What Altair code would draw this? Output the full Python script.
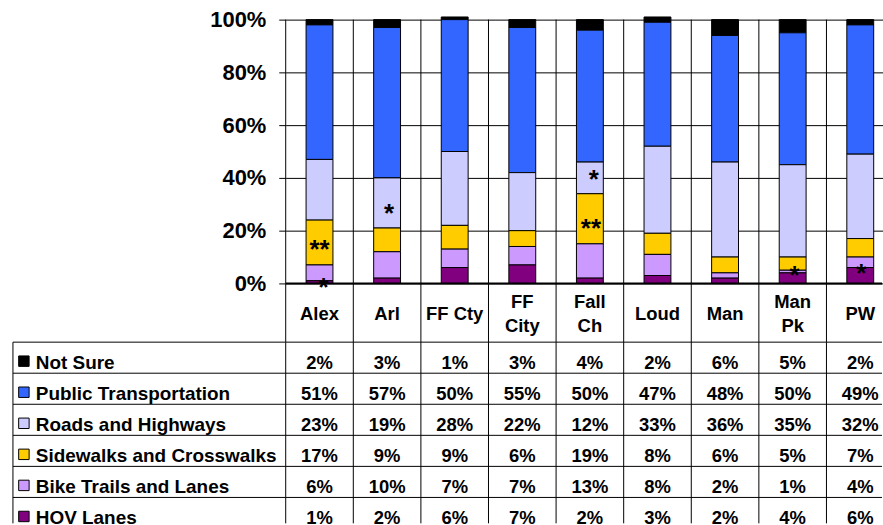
import altair as alt
import pandas as pd

# ---- data -------------------------------------------------------------
categories = ["Alex", "Arl", "FF Cty", "FF City", "Fall Ch", "Loud", "Man", "Man Pk", "PW"]
header_labels = ["Alex", "Arl", "FF Cty", "FF\nCity", "Fall\nCh", "Loud", "Man", "Man\nPk", "PW"]

series = [
    "Not Sure",
    "Public Transportation",
    "Roads and Highways",
    "Sidewalks and Crosswalks",
    "Bike Trails and Lanes",
    "HOV Lanes",
]
colors = ["#000000", "#3366FF", "#CCCCFF", "#FFCC00", "#CC99FF", "#800080"]

not_sure = [2, 3, 1, 3, 4, 2, 6, 5, 2]
public_transportation = [51, 57, 50, 55, 50, 47, 48, 50, 49]
roads_highways = [23, 19, 28, 22, 12, 33, 36, 35, 32]
sidewalks_crosswalks = [17, 9, 9, 6, 19, 8, 6, 5, 7]
bike_trails = [6, 10, 7, 7, 13, 8, 2, 1, 4]
hov_lanes = [1, 2, 6, 7, 2, 3, 2, 4, 6]
series_values = [not_sure, public_transportation, roads_highways,
                 sidewalks_crosswalks, bike_trails, hov_lanes]

# significance markers drawn on the bars
note_category = ["Alex", "Alex", "Arl", "Fall Ch", "Fall Ch", "Man Pk", "PW"]
note_position = [14.6, 0.3, 28.1, 41.0, 22.5, 4.8, 5.5]
note_text = ["**", "*", "*", "*", "**", "*", "*"]
note_shift = [0, 4, 2, 4, 1, 2, 1]

# ---- tables -----------------------------------------------------------
records = []
for s_idx, (name, vals) in enumerate(zip(series, series_values)):
    for cat, v in zip(categories, vals):
        records.append({
            "category": cat,
            "series": name,
            "value": v,
            "label": f"{v}%",
            "stack_order": len(series) - 1 - s_idx,
        })
df = pd.DataFrame(records)
header_df = pd.DataFrame({
    "category": categories,
    "label": header_labels,
    "lines": [lbl.count("\n") + 1 for lbl in header_labels],
})
series_df = pd.DataFrame({"series": series})
notes_df = pd.DataFrame({"category": note_category, "pos": note_position,
                         "text": note_text, "shift": note_shift})
one_row = pd.DataFrame({"k": [0]})

# ---- geometry ---------------------------------------------------------
FONT = "Liberation Sans"
COL_W = 67.9
LEFT_W = 284
PLOT_W = 599
BAR_H = 265
HEAD_H = 59
ROW_H = 31.2
TABLE_H = 182
LINE_H = 24

x_scale = alt.Scale(domain=categories, range=[0, COL_W * len(categories)],
                    paddingInner=0, paddingOuter=0)
row_scale = alt.Scale(domain=series, range=[0, ROW_H * len(series)],
                      paddingInner=0, paddingOuter=0)


def x_cat(band_pos=None):
    if band_pos is None:
        return alt.X("category:N", scale=x_scale, axis=None)
    return alt.X("category:N", scale=x_scale, axis=None, bandPosition=band_pos)


def y_row(band_pos=None):
    if band_pos is None:
        return alt.Y("series:N", scale=row_scale, axis=None)
    return alt.Y("series:N", scale=row_scale, axis=None, bandPosition=band_pos)


def col_separators():
    # vertical lines at the left edge of every category column
    return alt.Chart(header_df).mark_rule(color="black", strokeWidth=1).encode(x=x_cat(0))


color_enc = alt.Color("series:N", scale=alt.Scale(domain=series, range=colors), legend=None)

# ---- stacked bars -----------------------------------------------------
bars = alt.Chart(df).mark_bar(size=27, stroke="black", strokeWidth=1).encode(
    x=x_cat(),
    y=alt.Y(
        "value:Q",
        stack="zero",
        scale=alt.Scale(domain=[0, 100], nice=False),
        axis=alt.Axis(
            title=None, values=[0, 20, 40, 60, 80, 100],
            labelExpr="datum.value + '%'",
            labelFont=FONT, labelFontSize=22, labelFontWeight="bold",
            labelColor="black", labelPadding=13,
            tickSize=7, tickColor="black", tickWidth=1,
            grid=True, gridColor="black", gridWidth=1, domain=False,
        ),
    ),
    color=color_enc,
    order=alt.Order("stack_order:Q", sort="ascending"),
)

zero_line = alt.Chart(one_row).mark_rule(color="black", strokeWidth=2).encode(
    y=alt.datum(0)
)

note_layers = []
for shift in sorted(set(note_shift)):
    note_layers.append(
        alt.Chart(notes_df)
        .transform_filter(alt.datum.shift == shift)
        .mark_text(font=FONT, fontSize=26, fontWeight="bold", color="black",
                   baseline="alphabetic", dy=13, dx=shift)
        .encode(x=x_cat(), y=alt.Y("pos:Q"), text="text:N")
    )

bar_panel = alt.layer(col_separators(), bars, zero_line, *note_layers).properties(
    width=PLOT_W, height=BAR_H
)

# ---- category header row ---------------------------------------------
header_text = []
for n_lines in sorted(set(header_df["lines"])):
    header_text.append(
        alt.Chart(header_df)
        .transform_filter(alt.datum.lines == n_lines)
        .mark_text(font=FONT, fontSize=18.5, fontWeight="bold", color="black",
                   lineBreak="\n", lineHeight=LINE_H, baseline="middle", dy=1)
        .encode(x=x_cat(), y=alt.value(HEAD_H / 2 - (n_lines - 1) * LINE_H / 2),
                text="label:N")
    )
header = alt.layer(col_separators(), *header_text).properties(width=PLOT_W, height=HEAD_H)

# ---- data table ---------------------------------------------------------
row_lines = alt.Chart(series_df).mark_rule(color="black", strokeWidth=1).encode(y=y_row(0))
cells = alt.Chart(df).mark_text(
    font=FONT, fontSize=18.5, fontWeight="bold", color="black",
    baseline="middle", dy=5.5,
).encode(x=x_cat(), y=y_row(), text="label:N")
table = alt.layer(col_separators(), row_lines, cells).properties(width=PLOT_W, height=TABLE_H)

# ---- legend / row labels ------------------------------------------------
row_rules = alt.Chart(series_df).mark_rule(color="black", strokeWidth=1).encode(
    y=y_row(0), x=alt.value(10), x2=alt.value(LEFT_W),
)
left_border = alt.Chart(one_row).mark_rule(color="black", strokeWidth=1).encode(
    x=alt.value(10), y=alt.value(0), y2=alt.value(TABLE_H)
)
swatches = alt.Chart(series_df).mark_square(
    size=110, filled=True, opacity=1, stroke="black", strokeWidth=1, yOffset=3.5
).encode(x=alt.value(21), y=y_row(), color=color_enc)
row_text = alt.Chart(series_df).mark_text(
    font=FONT, fontSize=19, fontWeight="bold", color="black",
    align="left", baseline="middle", dy=5.5,
).encode(x=alt.value(33), y=y_row(), text="series:N")

row_labels = alt.layer(row_rules, left_border, swatches, row_text).properties(
    width=LEFT_W, height=TABLE_H
)


def blank(h):
    return alt.Chart(one_row).mark_point(opacity=0).encode(
        x=alt.value(0), y=alt.value(0)
    ).properties(width=LEFT_W, height=h)


chart = alt.concat(
    blank(BAR_H), bar_panel,
    blank(HEAD_H), header,
    row_labels, table,
    columns=2, spacing=0, bounds="flush", align="each",
).properties(
    padding={"left": 0, "top": 7.5, "right": 0, "bottom": 0},
    background="white",
).configure_view(stroke=None)

chart.save("out.html", embed_options={"renderer": "svg", "actions": False})
